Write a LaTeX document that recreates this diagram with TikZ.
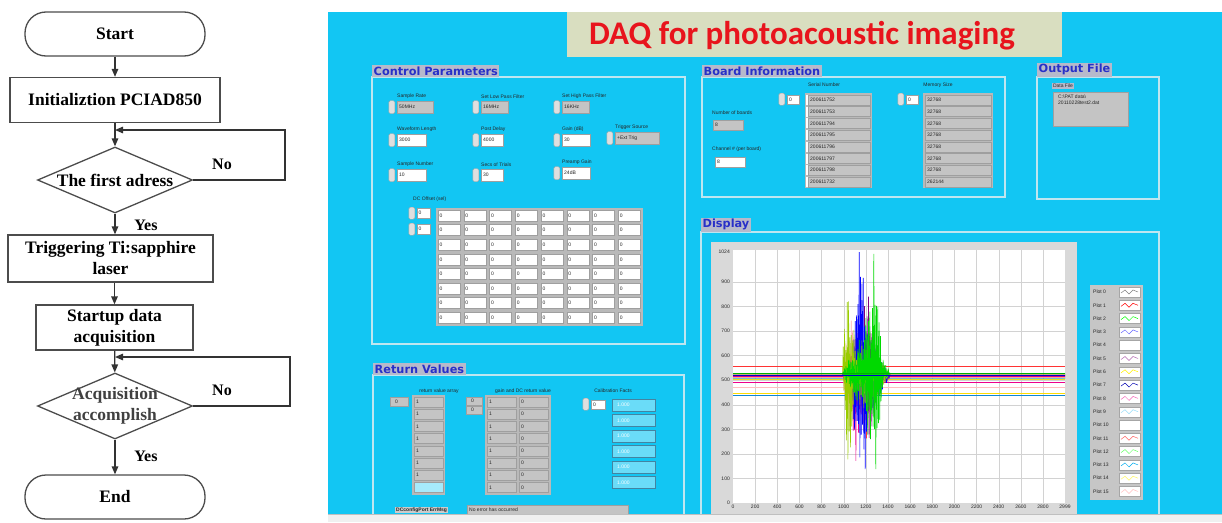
\documentclass[tikz,border=0pt]{standalone}
\usepackage{fontspec}
\setmainfont{Liberation Serif}
\newfontfamily\guifont{DejaVu Sans}
\newfontfamily\guismall{Liberation Sans}
\newfontfamily\daqfont{Carlito}
\usetikzlibrary{arrows.meta,shapes.geometric,positioning}

\begin{document}
\begin{tikzpicture}[x=1pt, y=-1pt,
    flowline/.style={draw=black!80, line width=1.3pt},
    arrow/.style={flowline, -{Triangle[length=8pt,width=6.5pt]}},
    flowtext/.style={font=\bfseries\fontsize{17.5}{21}\selectfont, align=center},
    terminal/.style={flowtext, draw=black!70, line width=1.3pt, rounded corners=21pt, minimum width=180pt, minimum height=44pt},
    process/.style={flowtext, draw=black!70, line width=1.3pt, inner sep=0pt},
    decision/.style={diamond, draw=black!70, line width=1.3pt, inner sep=0pt, minimum width=155pt, minimum height=66pt},
    branch/.style={font=\bfseries\fontsize{16}{18}\selectfont},
    paneltitle/.style={fill=labelFill, text=labelText, font=\guifont\bfseries\fontsize{11.3}{12}\selectfont, inner xsep=1.5pt, inner ysep=1.5pt, anchor=south west},
    panelframe/.style={draw=frameColour, line width=1.2pt},
    guitext/.style={font=\guismall\fontsize{5}{6}\selectfont, inner sep=0pt, text=black!85},
    spin/.style={draw=gray!70, fill=gray!25, rounded corners=1.5pt, line width=0.4pt, inner sep=0pt},
    cell/.style={draw=gray!75, line width=0.5pt},
]
    \definecolor{guiCyan}{HTML}{12C6F3}
    \definecolor{frameColour}{HTML}{BEE6F0}
    \definecolor{labelFill}{HTML}{B7B9CB}
    \definecolor{labelText}{HTML}{2830C8}
    \definecolor{titleFill}{HTML}{D9DEC0}
    \definecolor{titleText}{HTML}{E8141C}
    \definecolor{indFill}{HTML}{C4C4C4}
    \definecolor{calFill}{HTML}{6ADCF8}

    \useasboundingbox (0,0) rectangle (1222,522);

    % Flow chart
    \node[terminal] (start) at (115,34) {Start};
    \node[process, minimum width=210pt, minimum height=45pt] (init) at (115,100) {Initializtion PCIAD850};
    \node[decision] (addr) at (115,180) {};
    \node[flowtext] (addrText) at (addr) {The first adress};
    \node[process, minimum width=205pt, minimum height=47pt] (laser) at (110.5,258.5) {Triggering Ti:sapphire\\laser};
    \node[process, minimum width=157pt, minimum height=45pt] (daq) at (114.5,327.5) {Startup data\\acquisition};
    \node[decision] (acq) at (115,406) {};
    \node[flowtext, text=black!75] (acqText) at (acq) {Acquisition\\accomplish};
    \node[terminal] (end) at (115,497) {End};

    \coordinate (loopA) at (285,180);
    \coordinate (loopB) at (285,130);
    \coordinate (joinA) at (115,130);
    \coordinate (loopC) at (290,406);
    \coordinate (loopD) at (290,357);
    \coordinate (joinB) at (115,357);

    \draw[arrow] (start) -- (init);
    \draw[arrow] (init) -- (addr);
    \draw[arrow] (addr.east) -- (loopA) -- (loopB) -- (joinA);
    \draw[arrow] (addr.south) -- (addr.south |- laser.north);
    \draw[arrow] (daq.north |- laser.south) -- (daq.north);
    \draw[arrow] (daq) -- (acq);
    \draw[arrow] (acq.east) -- (loopC) -- (loopD) -- (joinB);
    \draw[arrow] (acq) -- (end);

    \node[branch] (noA) at (222,164) {No};
    \node[branch] (yesA) at (146,225) {Yes};
    \node[branch] (noB) at (222,390) {No};
    \node[branch] (yesB) at (146,456) {Yes};

    % Front panel background and title
    \fill[guiCyan] (328,12) rectangle (1222,514);
    \node[fill=titleFill, minimum width=495pt, minimum height=45pt, inner sep=0pt] (title) at (814.5,34.5) {};
    \node[text=titleText, font=\daqfont\bfseries\fontsize{33}{36}\selectfont] (titleText) at (802,36) {DAQ for photoacoustic imaging};

    % Control Parameters
    \draw[panelframe] (372,77) rectangle (685,344);
    \node[paneltitle] (cpTitle) at (372,77) {Control Parameters};
    \foreach \x/\y/\w/\lab/\val/\fc [count=\i] in {
        397/101/36/Sample Rate/50MHz/indFill,
        481/101/27/Set Low Pass Filter/16MHz/indFill,
        562/101/27/Set High Pass Filter/16KHz/indFill,
        397/134/29/Waveform Length/3000/white,
        481/134/22/Post Delay/4000/white,
        562/134/28/Gain (dB)/30/white,
        615/132/44/Trigger Source/+Ext Trig/indFill,
        397/169/29/Sample Number/10/white,
        481/169/22/Secs of Trials/30/white,
        562/167/28/Preamp Gain/24dB/white} {
        \node[spin, minimum width=6pt, minimum height=13pt, anchor=north east] (cpSpin\i) at (\x-2,\y-0.5) {};
        \draw[cell, fill=\fc] (\x,\y) rectangle (\x+\w,\y+12);
        \node[guitext, anchor=west] (cpVal\i) at (\x+2,\y+6) {\val};
        \node[guitext, anchor=south west] (cpLab\i) at (\x,\y-2.5) {\lab};
    }

    % DC offset array
    \node[guitext, anchor=west] (dcLab) at (413,199) {DC Offset (sel)};
    \foreach \y [count=\i] in {208,224} {
        \node[spin, minimum width=6pt, minimum height=12pt, anchor=north east] (dcSpin\i) at (415,\y-1) {};
        \draw[cell, fill=white] (417,\y) rectangle (430,\y+10);
        \node[guitext, anchor=west] (dcIdx\i) at (418.5,\y+5) {0};
    }
    \fill[gray!55] (436,208) rectangle (643,326);
    \foreach \c in {0,...,7}
        \foreach \r in {0,...,7} {
            \draw[cell, fill=white] ({438+\c*25.75},{210+\r*14.6}) rectangle ({460+\c*25.75},{221+\r*14.6});
            \node[guitext, anchor=west] (dc\c\r) at ({439.5+\c*25.75},{215.5+\r*14.6}) {0};
        }

    % Return Values
    \draw[panelframe] (373,514) -- (373,375) -- (684,375) -- (684,514);
    \node[paneltitle] (rvTitle) at (373,375) {Return Values};
    \node[guitext] (rvLab1) at (439,391) {return value array};
    \draw[cell, fill=indFill] (390,397) rectangle (408,406);
    \node[guitext, anchor=west] (rvIdx1) at (395,401.5) {0};
    \fill[gray!55] (412,395) rectangle (445,495);
    \foreach \r in {0,...,6} {
        \draw[cell, fill=indFill] (414,{397+\r*12.2}) rectangle (443,{407+\r*12.2});
        \node[guitext, anchor=west] (rv\r) at (416,{402+\r*12.2}) {1};
    }
    \draw[cell, fill=calFill!60] (414,482.4) rectangle (443,492.4);

    \node[guitext] (rvLab2) at (523,391) {gain and DC return value};
    \foreach \y [count=\i] in {397,406} {
        \draw[cell, fill=indFill] (466,\y) rectangle (482,\y+8);
        \node[guitext, anchor=west] (gdIdx\i) at (471,\y+4) {0};
    }
    \fill[gray!55] (485,395) rectangle (551,495);
    \foreach \c/\v in {0/1,1/0}
        \foreach \r in {0,...,7} {
            \draw[cell, fill=indFill] ({487+\c*32},{397+\r*12.2}) rectangle ({516+\c*32},{407+\r*12.2});
            \node[guitext, anchor=west] (gd\c\r) at ({489+\c*32},{402+\r*12.2}) {\v};
        }

    \node[guitext] (rvLab3) at (613,391) {Calibration Facts};
    \node[spin, minimum width=6pt, minimum height=12pt, anchor=north east] (calSpin) at (589,398) {};
    \draw[cell, fill=white] (591,400) rectangle (605,409);
    \node[guitext, anchor=west] (calIdx) at (593,404.5) {0};
    \foreach \r in {0,...,5} {
        \draw[draw=cyan!60!black, line width=0.5pt, fill=calFill] (612,{399+\r*15.5}) rectangle (655,{411+\r*15.5});
        \node[guitext, anchor=west, text=white] (cal\r) at (617,{405+\r*15.5}) {1.000};
    }

    \node[guitext, fill=gray!40, font=\guismall\bfseries\fontsize{5}{6}\selectfont, inner sep=1pt, anchor=west] (errLab) at (395,510) {DCconfigPort ErrMsg};
    \draw[cell, fill=indFill] (467,505) rectangle (628,515);
    \node[guitext, anchor=west] (errVal) at (469,510) {No error has occurred};

    % Board Information
    \draw[panelframe] (702,77) rectangle (1005,197);
    \node[paneltitle] (biTitle) at (702,77) {Board Information};
    \node[guitext] (snLab) at (824,85) {Serial Number};
    \node[guitext] (msLab) at (938,85) {Memory Size};
    \foreach \x/\n in {787/sn,906/ms} {
        \node[spin, minimum width=6pt, minimum height=12pt, anchor=north east] (\n Spin) at (\x-2,93) {};
        \draw[cell, fill=white] (\x,95) rectangle (\x+12,104);
        \node[guitext, anchor=west] (\n Idx) at (\x+2,99.5) {0};
    }
    \fill[gray!55] (805,93) rectangle (872,188);
    \foreach \v [count=\r from 0] in {200611752,200611753,200611794,200611795,200611796,200611797,200611798,200611732} {
        \draw[cell, fill=indFill] (808,{95+\r*11.7}) rectangle (870,{105+\r*11.7});
        \fill[white] (806,{95+\r*11.7}) rectangle (808,{105+\r*11.7});
        \node[guitext, anchor=west] (sn\r) at (810,{100+\r*11.7}) {\v};
    }
    \fill[gray!55] (923,93) rectangle (993,188);
    \foreach \v [count=\r from 0] in {32768,32768,32768,32768,32768,32768,32768,262144} {
        \draw[cell, fill=indFill] (925,{95+\r*11.7}) rectangle (991,{105+\r*11.7});
        \node[guitext, anchor=west] (ms\r) at (927,{100+\r*11.7}) {\v};
    }
    \node[guitext, anchor=west] (nbLab) at (712,113) {Number of boards};
    \draw[cell, fill=indFill] (713,120) rectangle (743,130);
    \node[guitext, anchor=west] (nbVal) at (715,125) {8};
    \node[guitext, anchor=west] (chLab) at (712,149) {Channel \# (per board)};
    \draw[cell, fill=white] (715,157) rectangle (745,167);
    \node[guitext, anchor=west] (chVal) at (717,162) {8};

    % Output File
    \draw[panelframe] (1037,77) rectangle (1159,199);
    \node[paneltitle] (ofTitle) at (1037,77) {Output File};
    \node[guitext, fill=labelFill, inner sep=0.8pt, anchor=west] (dfLab) at (1052,86) {Data File};
    \draw[cell, fill=indFill] (1053,92) rectangle (1128,126);
    \node[guitext, anchor=north west, align=left] (dfVal) at (1058,95) {C:\textbackslash PAT data\textbackslash\\20110228test2.dat};

    % Display
    \draw[panelframe] (701,514) -- (701,232) -- (1159,232) -- (1159,514);
    \node[paneltitle] (dpTitle) at (701,232) {Display};
    \fill[gray!30] (711,242) rectangle (1077,514);
    \fill[white] (733,250) rectangle (1065,503);
    \foreach \d in {200,400,...,2800}
        \draw[gray!35, line width=0.4pt] ({733+\d*0.1107},250) -- ({733+\d*0.1107},503);
    \foreach \v in {100,200,...,900}
        \draw[gray!35, line width=0.4pt] (733,{503-\v*0.2456}) -- (1065,{503-\v*0.2456});
    \foreach \v in {0,100,...,900}
        \node[guitext, anchor=east] (yl\v) at (730,{503-\v*0.2456}) {\v};
    \node[guitext, anchor=east] (yl1024) at (730,252) {1024};
    \foreach \d in {0,200,...,2800}
        \node[guitext, anchor=north] (xl\d) at ({733+\d*0.1107},505) {\d};
    \node[guitext, anchor=north] (xl2999) at (1065,505) {2999};

    % Signals
    \begin{scope}[shift={(733pt,-503pt)}, x=0.1107pt, y=0.2456pt]
        \pgfmathsetseed{42}
        \foreach \c/\v in {red!80/555, yellow!90!black/505, magenta/490, pink/470, yellow!80!orange/445, cyan!70!blue/438}
            \draw[\c, line width=0.7pt] (0,\v) -- (2999,\v);
        \foreach \c/\b/\a/\p in {orange/512/200/1080, red!80/522/190/1200, cyan!80!blue/508/170/1120, pink!90!red/510/240/1060,
                magenta/515/300/1100, violet/518/300/1230, blue/520/410/1150, lime!80!black/525/340/1040, green!85!black/528/380/1270}
            \draw[\c, line width=0.6pt] (0,\b) -- (990,\b)
                \foreach \k in {1,...,78} { -- ({990+\k*6},{\b+\a*(2*mod(\k,2)-1)*(0.3+0.7*rnd)*(max(0,1-abs(990+\k*6-\p)/80)+0.5*max(0,1-abs(990+\k*6-1200)/220))}) } -- (2999,\b);
        \draw[blue!80!black, line width=1.4pt] (0,518) -- (2999,518);
        \draw[green!70!black, line width=1.4pt] (0,527) -- (2999,527);
    \end{scope}

    % Legend
    \fill[gray!45] (1090,285) rectangle (1143,500);
    \foreach \c [count=\i from 0] in {gray,red,green,blue!60,white,violet!60,yellow,blue!70!black,magenta!60,cyan!40,white,red!60,green!60,cyan,yellow!60,pink} {
        \node[guitext, anchor=west] (lg\i) at (1093,{292+\i*13.3}) {Plot \i};
        \draw[fill=white, draw=gray!70, line width=0.4pt] (1119,{287+\i*13.3}) rectangle (1140,{297+\i*13.3});
        \draw[\c, line width=0.5pt] (1121,{293+\i*13.3}) -- (1125,{290+\i*13.3}) -- (1129,{294+\i*13.3}) -- (1133,{290+\i*13.3}) -- (1138,{292+\i*13.3});
    }

    % Bottom scroll bar
    \fill[gray!12] (328,514) rectangle (1222,522);
    \draw[gray!50, line width=0.5pt] (328,514) -- (1222,514);

\end{tikzpicture}
\end{document}
